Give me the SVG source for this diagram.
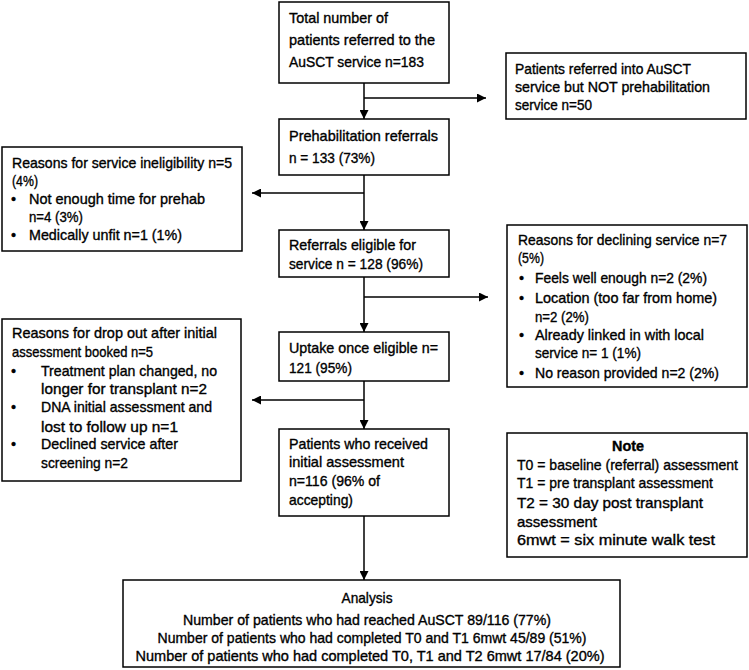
<svg xmlns="http://www.w3.org/2000/svg" width="749" height="670" viewBox="0 0 749 670">
<defs>
<style>
.box{fill:#fff;stroke:#000;stroke-width:1.5}
text{font-family:'Liberation Sans',Arial,sans-serif;font-size:14.5px;fill:#000;stroke:#000;stroke-width:0.35}
.c{text-anchor:middle}
.b{font-weight:bold}
.ln{stroke:#000;stroke-width:1.5;fill:none}
</style>
<marker id="ah" viewBox="0 0 10 10" refX="10" refY="5" markerWidth="10" markerHeight="9" markerUnits="userSpaceOnUse" orient="auto">
<path d="M0,0 L10,5 L0,10 Z" fill="#000"/>
</marker>
</defs>
<rect width="749" height="670" fill="#fff"/>
<g id="connectors">
<line class="ln" x1="364" y1="83" x2="364" y2="119" marker-end="url(#ah)"/>
<line class="ln" x1="364" y1="98" x2="486" y2="98" marker-end="url(#ah)"/>
<line class="ln" x1="364" y1="175" x2="364" y2="230" marker-end="url(#ah)"/>
<line class="ln" x1="364" y1="193" x2="252" y2="193" marker-end="url(#ah)"/>
<line class="ln" x1="364" y1="277" x2="364" y2="332" marker-end="url(#ah)"/>
<line class="ln" x1="364" y1="297" x2="488" y2="297" marker-end="url(#ah)"/>
<line class="ln" x1="364" y1="381" x2="364" y2="429" marker-end="url(#ah)"/>
<line class="ln" x1="364" y1="400" x2="252" y2="400" marker-end="url(#ah)"/>
<line class="ln" x1="364" y1="516" x2="364" y2="580" marker-end="url(#ah)"/>
</g>
<g id="total">
<rect class="box" x="279" y="2" width="170" height="81"/>
<text x="289" y="23" textLength="99" lengthAdjust="spacingAndGlyphs">Total number  of</text>
<text x="289" y="45" textLength="146" lengthAdjust="spacingAndGlyphs">patients referred to the</text>
<text x="289" y="67" textLength="135" lengthAdjust="spacingAndGlyphs">AuSCT service   n=183</text>
</g>
<g id="not-prehab">
<rect class="box" x="506" y="53" width="240" height="66"/>
<text x="515" y="74" textLength="176" lengthAdjust="spacingAndGlyphs">Patients referred into  AuSCT</text>
<text x="515" y="92" textLength="195" lengthAdjust="spacingAndGlyphs">service but  NOT prehabilitation</text>
<text x="515" y="110" textLength="77" lengthAdjust="spacingAndGlyphs">service n=50</text>
</g>
<g id="prehab">
<rect class="box" x="279" y="119" width="170" height="56"/>
<text x="289" y="141" textLength="149" lengthAdjust="spacingAndGlyphs">Prehabilitation referrals</text>
<text x="289" y="163" textLength="86" lengthAdjust="spacingAndGlyphs">n = 133 (73%)</text>
</g>
<g id="ineligible">
<rect class="box" x="2" y="147" width="240" height="104"/>
<text x="12" y="168" textLength="220" lengthAdjust="spacingAndGlyphs">Reasons for service ineligibility n=5</text>
<text x="12" y="186" textLength="26" lengthAdjust="spacingAndGlyphs">(4%)</text>
<text x="11" y="204">•</text>
<text x="29" y="204" textLength="176" lengthAdjust="spacingAndGlyphs">Not enough time for prehab</text>
<text x="29" y="222" textLength="54" lengthAdjust="spacingAndGlyphs">n=4 (3%)</text>
<text x="11" y="240">•</text>
<text x="29" y="240" textLength="153" lengthAdjust="spacingAndGlyphs">Medically unfit n=1 (1%)</text>
</g>
<g id="eligible">
<rect class="box" x="279" y="230" width="170" height="47"/>
<text x="289" y="250" textLength="127" lengthAdjust="spacingAndGlyphs">Referrals eligible for</text>
<text x="289" y="269" textLength="134" lengthAdjust="spacingAndGlyphs">service n = 128 (96%)</text>
</g>
<g id="declining">
<rect class="box" x="507" y="225" width="240" height="162"/>
<text x="518" y="245" textLength="209" lengthAdjust="spacingAndGlyphs">Reasons for declining service n=7</text>
<text x="518" y="263" textLength="26" lengthAdjust="spacingAndGlyphs">(5%)</text>
<text x="519" y="283">•</text>
<text x="535" y="283" textLength="172" lengthAdjust="spacingAndGlyphs">Feels well enough  n=2 (2%)</text>
<text x="519" y="303">•</text>
<text x="535" y="303" textLength="182" lengthAdjust="spacingAndGlyphs">Location (too far from home)</text>
<text x="535" y="322" textLength="54" lengthAdjust="spacingAndGlyphs">n=2 (2%)</text>
<text x="519" y="340">•</text>
<text x="535" y="340" textLength="169" lengthAdjust="spacingAndGlyphs">Already linked  in with local</text>
<text x="535" y="358" textLength="106" lengthAdjust="spacingAndGlyphs">service n= 1 (1%)</text>
<text x="519" y="378">•</text>
<text x="535" y="378" textLength="184" lengthAdjust="spacingAndGlyphs">No reason provided  n=2 (2%)</text>
</g>
<g id="uptake">
<rect class="box" x="279" y="332" width="170" height="49"/>
<text x="289" y="353" textLength="149" lengthAdjust="spacingAndGlyphs">Uptake  once eligible n=</text>
<text x="289" y="373" textLength="63" lengthAdjust="spacingAndGlyphs">121 (95%)</text>
</g>
<g id="dropout">
<rect class="box" x="2" y="319" width="239" height="162"/>
<text x="12" y="338" textLength="205" lengthAdjust="spacingAndGlyphs">Reasons for drop out  after initial</text>
<text x="12" y="357" textLength="141" lengthAdjust="spacingAndGlyphs">assessment booked  n=5</text>
<text x="11" y="376">•</text>
<text x="41" y="376" textLength="176" lengthAdjust="spacingAndGlyphs">Treatment  plan changed, no</text>
<text x="41" y="394" textLength="166" lengthAdjust="spacingAndGlyphs">longer for transplant n=2</text>
<text x="11" y="412">•</text>
<text x="41" y="412" textLength="171" lengthAdjust="spacingAndGlyphs">DNA initial assessment and</text>
<text x="41" y="432" textLength="137" lengthAdjust="spacingAndGlyphs">lost to  follow up n=1</text>
<text x="11" y="449">•</text>
<text x="41" y="449" textLength="137" lengthAdjust="spacingAndGlyphs">Declined service after</text>
<text x="41" y="468" textLength="87" lengthAdjust="spacingAndGlyphs">screening n=2</text>
</g>
<g id="received">
<rect class="box" x="279" y="429" width="170" height="87"/>
<text x="289" y="449" textLength="139" lengthAdjust="spacingAndGlyphs">Patients who received</text>
<text x="289" y="467" textLength="115" lengthAdjust="spacingAndGlyphs">initial assessment</text>
<text x="289" y="486" textLength="91" lengthAdjust="spacingAndGlyphs">n=116 (96% of</text>
<text x="289" y="505" textLength="64" lengthAdjust="spacingAndGlyphs">accepting)</text>
</g>
<g id="note">
<rect class="box" x="507" y="433" width="240" height="124"/>
<text class="c b" x="628" y="451" textLength="32" lengthAdjust="spacingAndGlyphs">Note</text>
<text x="517" y="470" textLength="221" lengthAdjust="spacingAndGlyphs">T0 = baseline (referral) assessment</text>
<text x="517" y="488" textLength="196" lengthAdjust="spacingAndGlyphs">T1 = pre  transplant assessment</text>
<text x="517" y="508" textLength="186" lengthAdjust="spacingAndGlyphs">T2 = 30 day post transplant</text>
<text x="517" y="527" textLength="80" lengthAdjust="spacingAndGlyphs">assessment</text>
<text x="517" y="545" textLength="198" lengthAdjust="spacingAndGlyphs">6mwt  = six minute  walk test</text>
</g>
<g id="analysis">
<rect class="box" x="123" y="580" width="497" height="87"/>
<text class="c" x="367" y="603" textLength="51" lengthAdjust="spacingAndGlyphs">Analysis</text>
<text class="c" x="367" y="625" textLength="368" lengthAdjust="spacingAndGlyphs">Number  of patients who had reached AuSCT 89/116 (77%)</text>
<text class="c" x="372" y="643" textLength="429" lengthAdjust="spacingAndGlyphs">Number  of patients who had completed  T0 and T1 6mwt 45/89 (51%)</text>
<text class="c" x="370" y="661" textLength="469" lengthAdjust="spacingAndGlyphs">Number  of patients who had completed  T0, T1 and T2 6mwt  17/84 (20%)</text>
</g>
</svg>
